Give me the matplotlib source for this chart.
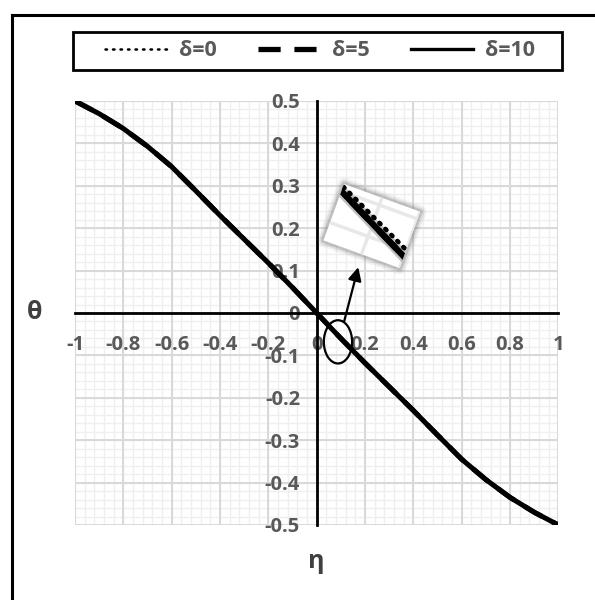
import matplotlib
matplotlib.use("Agg")
import numpy as np
import matplotlib.pyplot as plt
from matplotlib.lines import Line2D
from matplotlib.patches import Ellipse, Rectangle, Polygon
from matplotlib.ticker import FixedLocator, FuncFormatter
from matplotlib.transforms import Affine2D

plt.rcParams["font.family"] = ["Open Sans", "DejaVu Sans"]
plt.rcParams["axes.unicode_minus"] = False

# ---- data -----------------------------------------------------------------
eta = [-1.0, -0.9, -0.8, -0.7, -0.6, -0.5, -0.4, -0.3, -0.2, -0.1, 0.0,
       0.1, 0.2, 0.3, 0.4, 0.5, 0.6, 0.7, 0.8, 0.9, 1.0]
theta_d0 = [0.500, 0.471, 0.436, 0.395, 0.347, 0.291, 0.233, 0.177, 0.121, 0.063, 0.000,
            -0.057, -0.115, -0.171, -0.227, -0.285, -0.343, -0.391, -0.434, -0.469, -0.500]
theta_d5 = [0.500, 0.470, 0.435, 0.393, 0.345, 0.288, 0.230, 0.174, 0.118, 0.060, 0.000,
            -0.060, -0.118, -0.174, -0.230, -0.288, -0.345, -0.393, -0.435, -0.470, -0.500]
theta_d10 = [0.500, 0.470, 0.435, 0.393, 0.345, 0.288, 0.230, 0.174, 0.118, 0.060, 0.000,
             -0.060, -0.118, -0.174, -0.230, -0.288, -0.345, -0.393, -0.435, -0.470, -0.500]
labels = ["δ=0", "δ=5", "δ=10"]
x_ticks = [-1.0, -0.8, -0.6, -0.4, -0.2, 0.0, 0.2, 0.4, 0.6, 0.8, 1.0]
y_ticks = [-0.5, -0.4, -0.3, -0.2, -0.1, 0.0, 0.1, 0.2, 0.3, 0.4, 0.5]

TICK_GRAY = "#595959"
W_PX, H_PX = 595, 600

fig = plt.figure(figsize=(5.95, 6.0), dpi=100)
fig.patch.set_facecolor("white")

# pixel helper (origin top-left, y down)
PX = Affine2D().scale(1 / W_PX, -1 / H_PX).translate(0, 1) + fig.transFigure

# outer frame (top and left edges)
fig.add_artist(Line2D([12, 595], [15, 15], transform=PX, color="black", lw=2.2))
fig.add_artist(Line2D([12, 12], [15, 600], transform=PX, color="black", lw=2.2))

ax = fig.add_axes([75 / W_PX, 75 / H_PX, 483.4 / W_PX, 424 / H_PX])
ax.set_xlim(-1, 1)
ax.set_ylim(-0.5, 0.5)
ax.xaxis.set_major_locator(FixedLocator(x_ticks))
ax.yaxis.set_major_locator(FixedLocator(y_ticks))

# gridlines drawn beneath the tick labels: five minor steps per major step
x_minor = np.linspace(x_ticks[0], x_ticks[-1], (len(x_ticks) - 1) * 5 + 1)
y_minor = np.linspace(y_ticks[0], y_ticks[-1], (len(y_ticks) - 1) * 5 + 1)
ax.vlines(x_minor, -0.5, 0.5, color="#efefef", lw=1.0, zorder=0.3)
ax.hlines(y_minor, -1, 1, color="#efefef", lw=1.0, zorder=0.3)
ax.vlines(x_ticks, -0.5, 0.5, color="#d9d9d9", lw=1.4, zorder=0.4)
ax.hlines(y_ticks, -1, 1, color="#d9d9d9", lw=1.4, zorder=0.4)

for side in ("top", "right"):
    ax.spines[side].set_visible(False)
ax.spines["left"].set_position(("data", 0))
ax.spines["bottom"].set_position(("data", 0))
for side in ("left", "bottom"):
    ax.spines[side].set_linewidth(2.0)
    ax.spines[side].set_color("black")
    ax.spines[side].set_zorder(2.6)

fmt = FuncFormatter(lambda v, p: "%g" % round(v, 2))
ax.xaxis.set_major_formatter(fmt)
ax.yaxis.set_major_formatter(fmt)
ax.tick_params(which="both", length=0)
ax.tick_params(axis="x", pad=16)
ax.tick_params(axis="y", pad=12)
for t in ax.get_xticklabels() + ax.get_yticklabels():
    t.set_fontsize(14.5)
    t.set_fontweight("bold")
    t.set_color(TICK_GRAY)

ax.plot(eta, theta_d0, color="black", lw=2.0, ls=(0, (0.6, 2.2)),
        dash_capstyle="round", zorder=3)
ax.plot(eta, theta_d5, color="black", lw=3.6, ls=(0, (4, 2.4)), zorder=3)
ax.plot(eta, theta_d10, color="black", lw=3.6, zorder=3)

# highlight near the origin and pointer to the magnified view
ax.add_patch(Ellipse((0.088, -0.068), width=0.117, height=0.102, fill=False,
                     lw=1.6, color="black", zorder=4))
ax.annotate("", xy=(0.172, 0.108), xytext=(0.113, -0.021),
            arrowprops=dict(arrowstyle="-|>", lw=1.6, color="black",
                            mutation_scale=20, shrinkA=0, shrinkB=0),
            zorder=4)

# axis titles
fig.text(35 / W_PX, 1 - 313 / H_PX, "θ", fontsize=18, fontweight="bold",
         color="#404040", ha="center", va="center")
fig.text(316 / W_PX, 1 - 562 / H_PX, "η", fontsize=18, fontweight="bold",
         color="#404040", ha="center", va="center")

# legend
fig.add_artist(Rectangle((73, 32), 489, 38, transform=PX, fill=False,
                         lw=2.0, edgecolor="black"))
handles = [
    Line2D([], [], color="black", lw=1.8, ls=(0, (0.6, 2.4)), dash_capstyle="round"),
    Line2D([], [], color="black", lw=3.8, ls=(0, (4.2, 2.6))),
    Line2D([], [], color="black", lw=2.4),
]
leg = fig.legend(handles, labels, loc="center", bbox_to_anchor=(320 / W_PX, 1 - 51 / H_PX),
                 ncol=3, frameon=False, handlelength=2.9, handletextpad=0.55,
                 columnspacing=1.9, prop=dict(size=15.5, weight="bold"))
for t in leg.get_texts():
    t.set_color(TICK_GRAY)

# magnified, tilted view of the curves near the origin
IW, IH, ANG = 81, 60, -20
ORIGIN = (344, 600 - 184)
TO_FIG = Affine2D().scale(1 / 100) + fig.dpi_scale_trans
local_tf = Affine2D().scale(IW, -IH).rotate_deg(ANG).translate(*ORIGIN) + TO_FIG
eta0, d_eta = 0.05, 0.02
theta_top, d_theta = -0.0277, 0.018
zoom_tf = (Affine2D().translate(-eta0, -theta_top).scale(IW / d_eta, IH / d_theta)
           .rotate_deg(ANG).translate(*ORIGIN) + TO_FIG)

square = [(0, 0), (1, 0), (1, 1), (0, 1)]
for lw, a in ((9, 0.10), (6, 0.18), (3.5, 0.30)):
    fig.add_artist(Polygon(square, closed=True, transform=local_tf, fill=False,
                           edgecolor="#7f7f7f", lw=lw, alpha=a, joinstyle="round", zorder=5))
frame = Polygon(square, closed=True, transform=local_tf, facecolor="white",
                edgecolor="none", zorder=5)
fig.add_artist(frame)

for g in (0.06, 0.07):
    ln = Line2D([g, g], [-0.1, 0.1], transform=zoom_tf, color="#e8e8e8", lw=2.5, zorder=5.1)
    ln.set_clip_path(frame)
    fig.add_artist(ln)
for g in (-0.03, -0.04):
    ln = Line2D([-1, 1], [g, g], transform=zoom_tf, color="#e8e8e8", lw=2.5, zorder=5.1)
    ln.set_clip_path(frame)
    fig.add_artist(ln)

zoom_lines = [
    Line2D(eta, theta_d10, transform=zoom_tf, color="#9a9a9a", lw=8, alpha=0.6, zorder=5.2),
    Line2D(eta, theta_d10, transform=zoom_tf, color="black", lw=4.5, zorder=5.3),
    Line2D(eta, theta_d5, transform=zoom_tf, color="black", lw=4.5, ls=(0, (4, 2.4)), zorder=5.3),
    Line2D(eta, theta_d0, transform=zoom_tf, color="black", lw=3.4, ls=(0, (0.3, 1.5)),
           dash_capstyle="round", zorder=5.4),
]
for ln in zoom_lines:
    ln.set_clip_path(frame)
    fig.add_artist(ln)

fig.savefig("out.png", dpi=100, facecolor="white")
